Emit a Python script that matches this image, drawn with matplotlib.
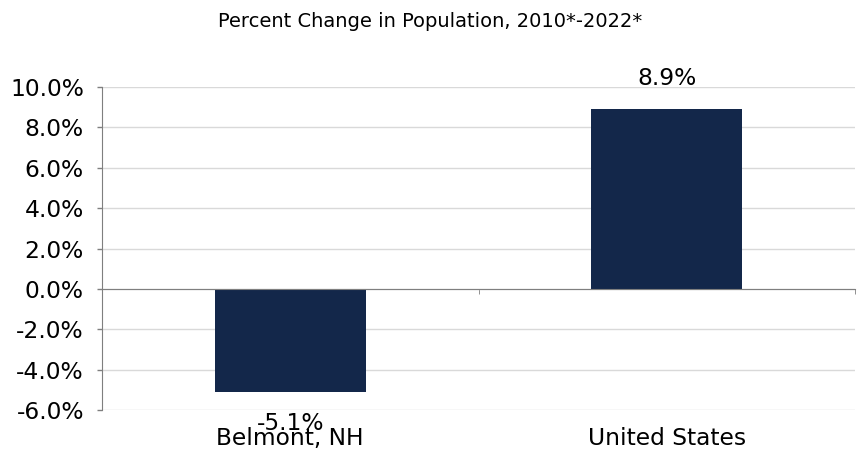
import numpy as np
import matplotlib
matplotlib.use("Agg")
import matplotlib.pyplot as plt
from matplotlib.ticker import FuncFormatter, FixedLocator

# data
categories = ["Belmont, NH", "United States"]
pct_change = [-5.1, 8.9]
title = "Percent Change in Population, 2010*-2022*"

bar_color = "#13274a"
grid_color = "#d9d9d9"
axis_color = "#7f7f7f"

fig = plt.figure(figsize=(8.6, 4.51), dpi=100)
ax = fig.add_axes([0.1186, 0.0909, 0.8756, 0.7162])

x = np.arange(len(categories))
ax.bar(x, pct_change, width=0.4, color=bar_color, zorder=3)

ax.set_xlim(-0.5, len(categories) - 0.5)
ax.set_ylim(-6, 10)
ax.set_yticks(np.arange(-6, 11, 2))
ax.yaxis.set_major_formatter(FuncFormatter(lambda v, p: f"{v:.1f}%"))
ax.tick_params(axis="y", labelsize=16.8, color=axis_color, length=3.6, width=1,
               labelcolor="black", pad=9.4)
ax.yaxis.grid(True, color=grid_color, linewidth=1, zorder=0)

# zero line acts as the category axis
for s in ["top", "right"]:
    ax.spines[s].set_visible(False)
ax.spines["left"].set_color(axis_color)
ax.spines["bottom"].set_position(("data", 0))
ax.spines["bottom"].set_color(axis_color)
ax.spines["bottom"].set_zorder(4)
ax.xaxis.set_major_locator(FixedLocator(x))
ax.xaxis.set_minor_locator(FixedLocator(np.arange(len(categories) + 1) - 0.5))
ax.tick_params(axis="x", which="major", length=0, labelbottom=False)
ax.tick_params(axis="x", which="minor", length=3.6, color=axis_color, direction="out")

# category labels under the plot
for i, name in enumerate(categories):
    ax.annotate(name, (i, -6), xytext=(0, -12.5), textcoords="offset points",
                ha="center", va="top", fontsize=16.8)

# value labels
for i, v in enumerate(pct_change):
    if v >= 0:
        ax.annotate(f"{v:.1f}%", (i, v), xytext=(0, 14), textcoords="offset points",
                    ha="center", va="bottom", fontsize=16.8)
    else:
        ax.annotate(f"{v:.1f}%", (i, v), xytext=(0, -14.4), textcoords="offset points",
                    ha="center", va="top", fontsize=16.8)

fig.text(0.5, 0.953, title, ha="center", va="center", fontsize=14)

fig.savefig("out.png", dpi=100)
